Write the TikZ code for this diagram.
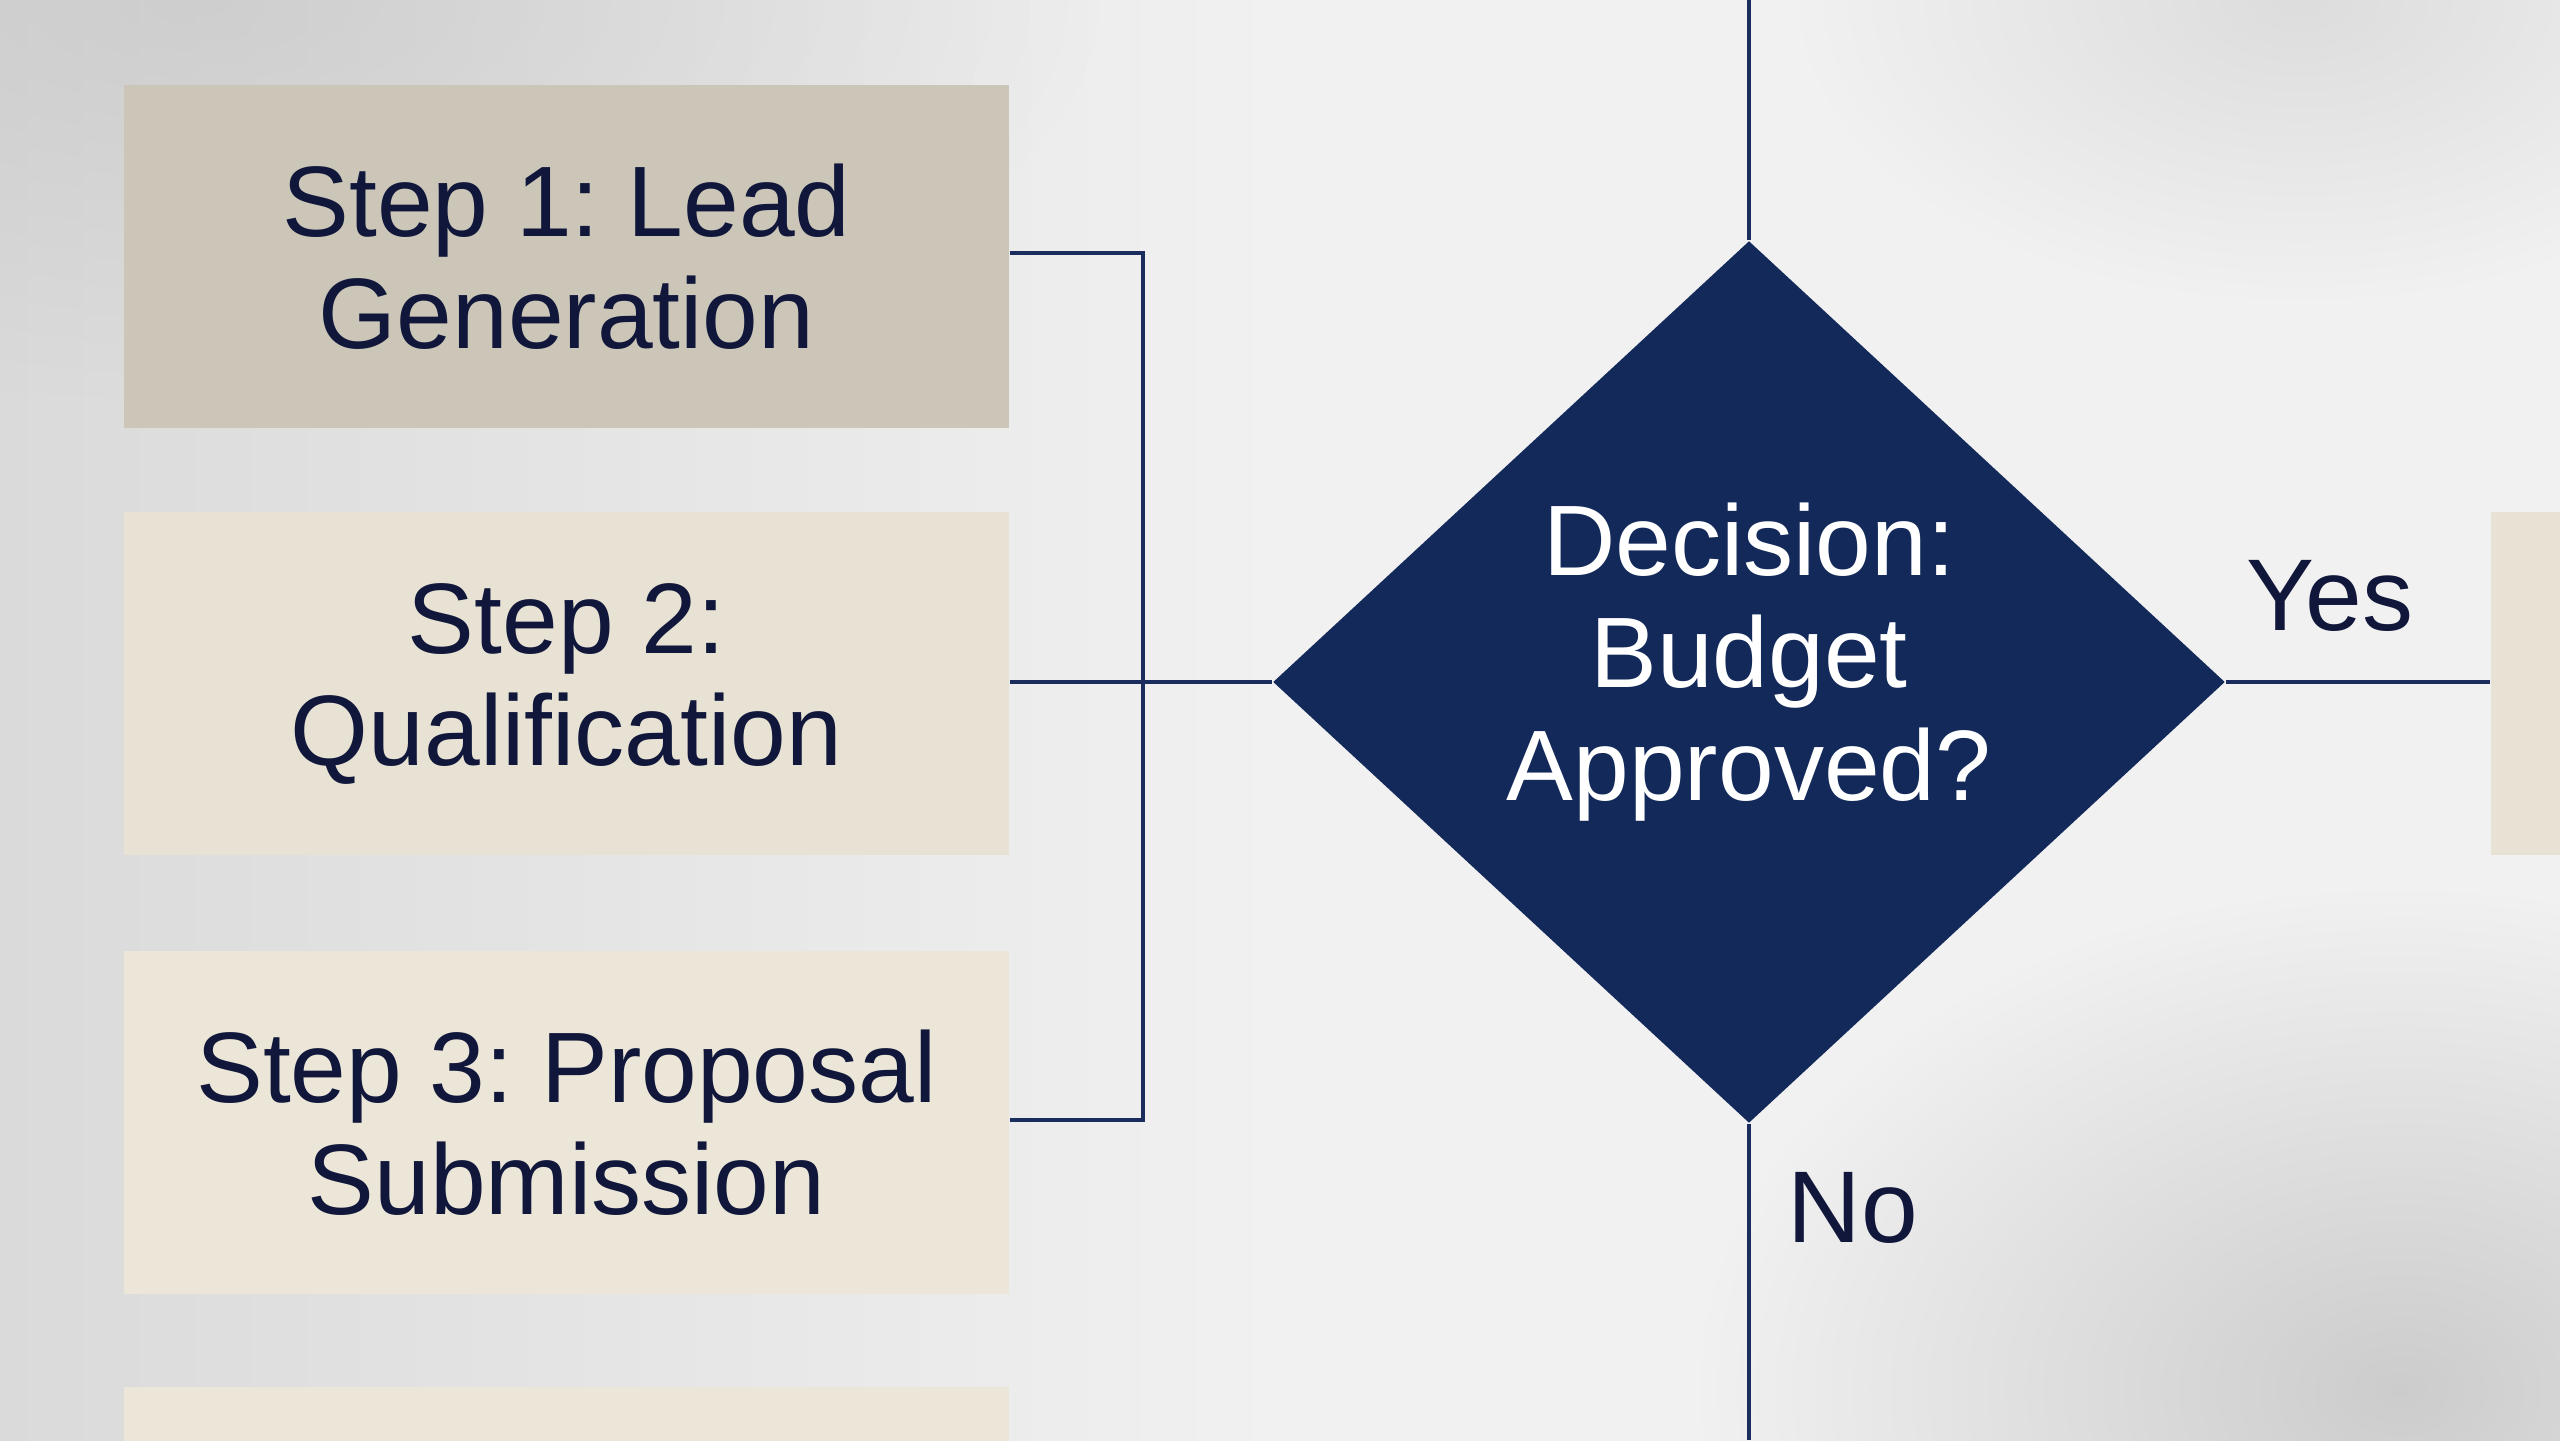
\documentclass[tikz,border=0pt]{standalone}
\usepackage{fontspec}
\setmainfont{Liberation Sans}
\usetikzlibrary{shapes.geometric,fadings}
\definecolor{navy}{HTML}{13295A}
\definecolor{linenavy}{HTML}{1B2C5E}
\definecolor{txt}{HTML}{10173A}
\definecolor{beigeA}{HTML}{CCC6B8}
\definecolor{beigeB}{HTML}{E8E2D4}
\definecolor{beigeC}{HTML}{ECE6D8}
\definecolor{bgA}{HTML}{F1F1F1}
\definecolor{bgB}{HTML}{DADADA}
\tikzfading[name=softspot, inner color=transparent!35, outer color=transparent!100]
\tikzset{
  stepbox/.style={rectangle, minimum width=8.85cm, minimum height=3.43cm, inner sep=0pt, align=center, text=txt, font=\fontsize{28.5}{32}\selectfont},
  conn/.style={draw=linenavy, line width=1.1pt},
  lbl/.style={text=txt, font=\fontsize{29}{32}\selectfont, inner sep=0pt},
}
\begin{document}
\frenchspacing
\begin{tikzpicture}
\useasboundingbox (0,0) rectangle (25.6,14.4);
\clip (0,0) rectangle (25.6,14.4);
% background
\shade[left color=bgB, right color=bgA, middle color=bgA] (0,0) rectangle (25.6,14.4);
\fill[gray!55, path fading=softspot] (24,0.5) ellipse (7cm and 5cm);
\fill[gray!45, path fading=softspot] (2,14.4) ellipse (9cm and 4cm);
\fill[gray!35, path fading=softspot] (23,14.4) ellipse (5cm and 3cm);
% boxes
\node[stepbox, fill=beigeA] (s1) at (5.665,11.835) {Step 1: Lead\\Generation};
\node[stepbox, fill=beigeB] (s2) at (5.665,7.56) {Step 2:\\Qualification};
\node[stepbox, fill=beigeC] (s3) at (5.665,3.175) {Step 3: Proposal\\Submission};
\node[stepbox, fill=beigeC, anchor=north] (s4) at (5.665,0.54) {};
\node[rectangle, fill=beigeB, minimum width=2cm, minimum height=3.43cm, inner sep=0pt, anchor=west] (next) at (24.9,7.56) {};
% decision
\node[diamond, fill=navy, minimum width=9.52cm, minimum height=8.82cm, inner sep=0pt] (dec) at (17.49,7.58) {};
\node[text=white, align=center, font=\fontsize{28.5}{32}\selectfont] (dlabel) at (17.49,7.78) {Decision:\\Budget\\Approved?};
% connectors
\coordinate (bus) at (11.43,7.58);
\coordinate (topend) at (17.49,14.4);
\coordinate (botend) at (17.49,0);
\draw[conn] (s1.east |- 0,11.87) -| (bus) -- (dec.west);
\draw[conn] (s2.east |- 0,7.58) -- (bus);
\draw[conn] (s3.east |- 0,3.2) -| (bus);
\draw[conn] (dec.north) -- (topend);
\draw[conn] (dec.south) -- (botend);
\draw[conn] (dec.east) -- (next.west |- dec.east);
% labels
\node[lbl] (yes) at (23.30,8.44) {Yes};
\node[lbl] (no) at (18.53,2.32) {No};
\end{tikzpicture}
\end{document}
